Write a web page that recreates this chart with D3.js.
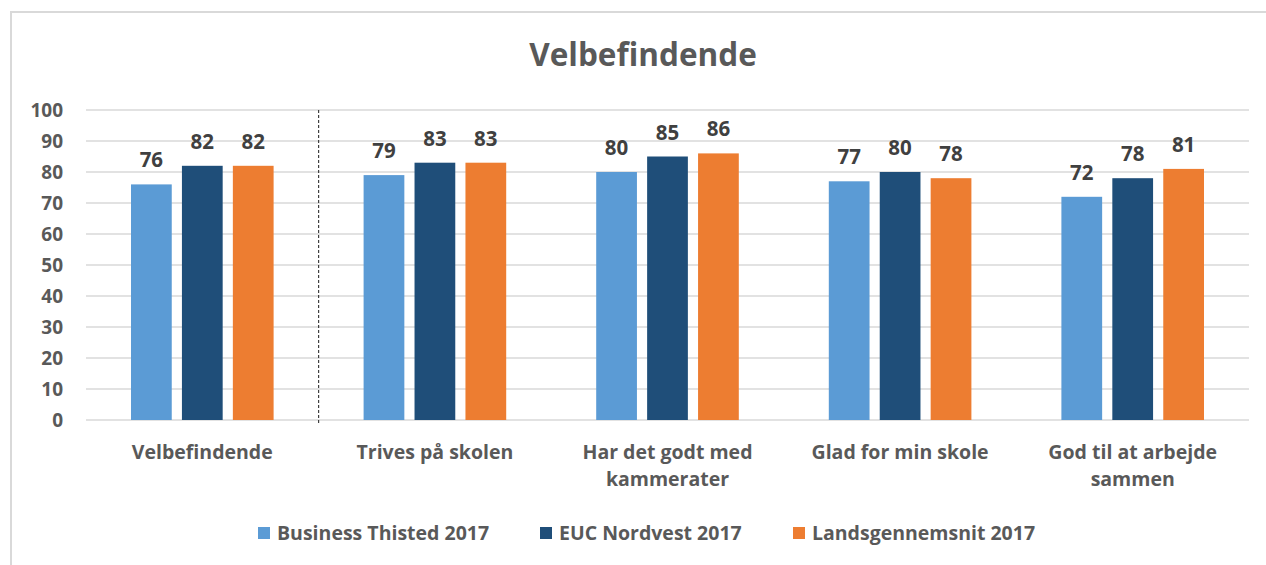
<!DOCTYPE html>
<html>
<head>
<meta charset="utf-8">
<script src="https://cdn.jsdelivr.net/npm/d3@7"></script>
<style>
  body { margin: 0; background: #fff; }
  text { font-family: "Open Sans", Lato, sans-serif; font-weight: bold; }
</style>
</head>
<body>
<div id="chart"></div>
<script>
// data
var categories = [
    ['Velbefindende'],
    ['Trives på skolen'],
    ['Har det godt med', 'kammerater'],
    ['Glad for min skole'],
    ['God til at arbejde', 'sammen']
];
var seriesNames = ['Business Thisted 2017', 'EUC Nordvest 2017', 'Landsgennemsnit 2017'];
var businessThisted = [76, 79, 80, 77, 72];
var eucNordvest = [82, 83, 85, 80, 78];
var landsgennemsnit = [82, 83, 86, 78, 81];
var yTicks = [0, 10, 20, 30, 40, 50, 60, 70, 80, 90, 100];

var colors = ['#5B9BD5', '#1F4E79', '#ED7D31'];
var seriesValues = [businessThisted, eucNordvest, landsgennemsnit];

var svgWidth = 1266;
var svgHeight = 565;

var margin = { top: 110, left: 86, right: 17, bottom: 145 };
var width = svgWidth - margin.left - margin.right;
var height = svgHeight - margin.top - margin.bottom;

var svg = d3.select('#chart')
    .append('svg')
    .attr('width', svgWidth)
    .attr('height', svgHeight);

// chart frame
svg.append('path')
    .attr('d', 'M11,' + svgHeight + ' V12 H' + svgWidth)
    .attr('fill', 'none')
    .attr('stroke', '#d9d9d9')
    .attr('stroke-width', 2);

// title
svg.append('text')
    .attr('x', 643)
    .attr('y', 66)
    .attr('text-anchor', 'middle')
    .attr('fill', '#595959')
    .style('font-size', '31.5px')
    .text('Velbefindende');

var chartGroup = svg.append('g')
    .attr('transform', `translate(${margin.left}, ${margin.top})`);

var x0 = d3.scaleBand()
    .domain(d3.range(categories.length))
    .range([0, width]);

var x1 = d3.scaleBand()
    .domain(d3.range(seriesNames.length))
    .range([45, x0.bandwidth() - 45])
    .paddingInner(0.2);

var y = d3.scaleLinear()
    .domain([0, 100])
    .range([height, 0]);

// gridlines
chartGroup.append('g')
    .selectAll('line')
    .data(yTicks)
    .enter()
    .append('line')
    .attr('x1', 0)
    .attr('x2', width)
    .attr('y1', d => y(d))
    .attr('y2', d => y(d))
    .attr('stroke', '#d9d9d9')
    .attr('stroke-width', 1.5);

// y axis labels
var leftAxis = d3.axisLeft(y).tickValues(yTicks).tickSize(0).tickPadding(23);
var yAxis = chartGroup.append('g').call(leftAxis);
yAxis.select('.domain').remove();
yAxis.selectAll('text')
    .attr('fill', '#595959')
    .style('font-size', '19px')
    .style('font-family', '"Open Sans", sans-serif')
    .style('font-weight', 'bold');

// dashed separator after first group
chartGroup.append('line')
    .attr('x1', x0(1))
    .attr('x2', x0(1))
    .attr('y1', y(100))
    .attr('y2', y(0) + 4)
    .attr('stroke', '#404040')
    .attr('stroke-width', 1.2)
    .attr('stroke-dasharray', '3,2');

// bars
var groups = chartGroup.selectAll('.group')
    .data(categories)
    .enter()
    .append('g')
    .attr('class', 'group')
    .attr('transform', (d, i) => `translate(${x0(i)}, 0)`);

groups.each(function(d, i) {
    var g = d3.select(this);
    seriesValues.forEach(function(vals, s) {
        g.append('rect')
            .attr('x', x1(s))
            .attr('y', y(vals[i]))
            .attr('width', x1.bandwidth())
            .attr('height', y(0) - y(vals[i]))
            .attr('fill', colors[s]);
        g.append('text')
            .attr('x', x1(s) + x1.bandwidth() / 2)
            .attr('y', y(vals[i]) - 17)
            .attr('text-anchor', 'middle')
            .attr('fill', '#404040')
            .style('font-size', '20.5px')
            .text(vals[i]);
    });

    // category label, one text per line
    d.forEach(function(line, k) {
        g.append('text')
            .attr('x', x0.bandwidth() / 2)
            .attr('y', height + 39 + k * 27)
            .attr('text-anchor', 'middle')
            .attr('fill', '#595959')
            .style('font-size', '19.5px')
            .text(line);
    });
});

// legend
var legendX = [258, 540, 793];
var legend = svg.append('g')
    .attr('transform', 'translate(0, 527)');

seriesNames.forEach(function(name, s) {
    legend.append('rect')
        .attr('x', legendX[s])
        .attr('y', 0)
        .attr('width', 12)
        .attr('height', 12)
        .attr('fill', colors[s]);
    legend.append('text')
        .attr('x', legendX[s] + 19)
        .attr('y', 13)
        .attr('fill', '#595959')
        .style('font-size', '19.5px')
        .text(name);
});
</script>
</body>
</html>
